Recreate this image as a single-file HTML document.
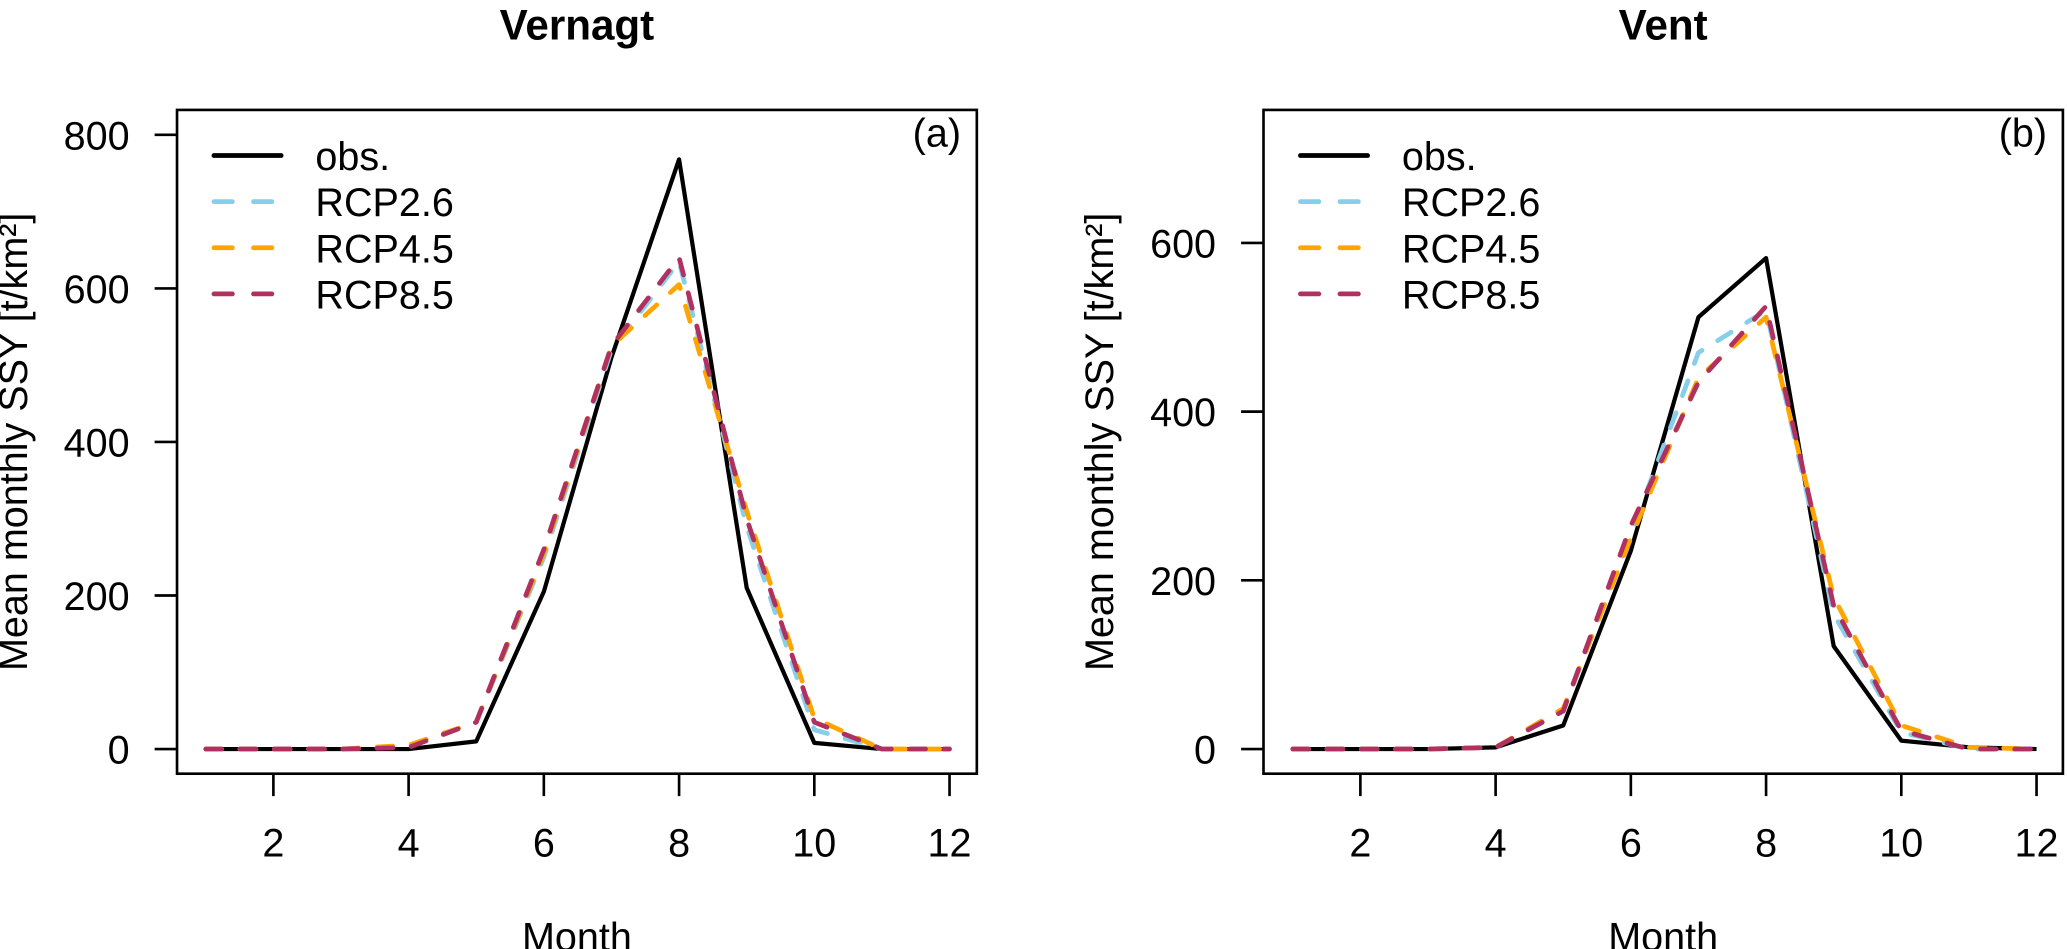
<!DOCTYPE html>
<html><head><meta charset="utf-8"><style>
html,body{margin:0;padding:0;background:#fff}
svg{display:block}
text{font-family:"Liberation Sans",Arial,sans-serif;fill:#000}
</style></head><body>
<svg id="chart" xmlns="http://www.w3.org/2000/svg" width="2067" height="949" viewBox="0 0 1568 720">
<g id="root"></g>
</svg>
<script>
const months = [1,2,3,4,5,6,7,8,9,10,11,12];
const xTicks = [2,4,6,8,10,12];
const vernagtObs  = [0,0,0,0,10,205,510,768,210,8,0,0];
const vernagtR26  = [0,0,0,3,35,250,520,635,290,25,0,0];
const vernagtR45  = [0,0,0,5,35,255,525,605,310,40,0,0];
const vernagtR85  = [0,0,0,2,35,260,525,640,300,35,0,0];
const vernagtTicks = [0,200,400,600,800];
const ventObs  = [0,0,0,2,28,235,512,582,122,10,2,0];
const ventR26  = [0,0,0,2,45,255,470,520,160,20,0,0];
const ventR45  = [0,0,0,2,48,250,440,512,180,28,2,0];
const ventR85  = [0,0,0,2,45,265,435,525,170,22,0,0];
const ventTicks = [0,200,400,600];
const seriesNames = ["obs.","RCP2.6","RCP4.5","RCP8.5"];

const NS="http://www.w3.org/2000/svg";
const root=document.getElementById('root');
function mk(tag,attrs,parent){const e=document.createElementNS(NS,tag);for(const k in attrs)e.setAttribute(k,attrs[k]);(parent||root).appendChild(e);return e;}
const colors=["#000000","#87CEEB","#FFA500","#B03060"];

function panel(cfg){
  const g=mk('g',{});
  
  
  const L=cfg.left,R=cfg.right,T=83.4,B=587;
  const xs=m=>cfg.x1+(m-1)*51.3;
  const ys=v=>568.3-v*cfg.py;
  const box=mk('rect',{x:L,y:T,width:R-L,height:B-T,fill:'none',stroke:'#000','stroke-width':2},g);
  
  
  const t=mk('text',{x:(L+R)/2,y:30,'text-anchor':'middle','font-size':32,'font-weight':'bold'},g);
  t.textContent=cfg.title;
  
  
  const pl=mk('text',{x:R-12,y:111,'text-anchor':'end','font-size':30},g);
  pl.textContent=cfg.label;
  
  
  cfg.yTicks.forEach(v=>{
    const tk=mk('line',{x1:L-17,x2:L,y1:ys(v),y2:ys(v),stroke:'#000','stroke-width':2},g);
    
    
    const tl=mk('text',{x:L-36,y:ys(v)+11,'text-anchor':'end','font-size':30},g);
    tl.textContent=v;
    
    
  });
  xTicks.forEach(m=>{
    const tk=mk('line',{x1:xs(m),x2:xs(m),y1:B,y2:B+17,stroke:'#000','stroke-width':2},g);
    
    
    const tl=mk('text',{x:xs(m),y:650,'text-anchor':'middle','font-size':30},g);
    tl.textContent=m;
    
    
  });
  const xt=mk('text',{x:(L+R)/2,y:721,'text-anchor':'middle','font-size':30},g);
  xt.textContent='Month';
  
  
  const yx=L-114, yy=(T+B)/2;
  const yt=mk('text',{x:yx,y:yy,'text-anchor':'middle','font-size':30,transform:`rotate(-90 ${yx} ${yy})`},g);
  yt.textContent='Mean monthly SSY [t/km²]';
  
  
  cfg.series.forEach((s,i)=>{
    const d=s.map((v,k)=>(k?'L':'M')+xs(months[k]).toFixed(1)+','+ys(v).toFixed(1)).join(' ');
    const a={d:d,fill:'none',stroke:colors[i],'stroke-width':i?3.6:3.2,'stroke-linejoin':'round','stroke-linecap':i?'round':'butt'};
    if(i) a['stroke-dasharray']='12 14';
    const p=mk('path',a,g);
    
    
  });
  const lg=mk('g',{},g);
  
  
  seriesNames.forEach((n,i)=>{
    const y=118+i*35;
    const a={x1:L+28,x2:L+79,y1:y,y2:y,stroke:colors[i],'stroke-width':3.6,'stroke-linecap':'round'};
    if(i) a['stroke-dasharray']='14 16';
    const ln=mk('line',a,lg);
    
    
    const tx=mk('text',{x:L+105,y:y+11,'font-size':30},lg);
    tx.textContent=n;
    
    
  });
}
panel({id:'vernagt',title:'Vernagt',label:'(a)',left:134.2,right:741,x1:156,py:0.5825,yTicks:vernagtTicks,series:[vernagtObs,vernagtR26,vernagtR45,vernagtR85]});
panel({id:'vent',title:'Vent',label:'(b)',left:958.5,right:1565,x1:980.7,py:0.64,yTicks:ventTicks,series:[ventObs,ventR26,ventR45,ventR85]});
</script>
</body></html>
